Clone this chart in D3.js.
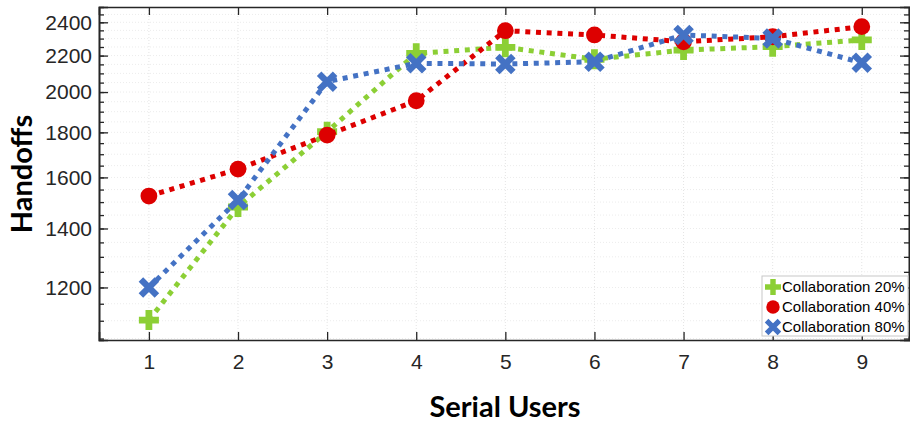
<!DOCTYPE html>
<html><head><meta charset="utf-8">
<script src="https://cdn.jsdelivr.net/npm/d3@7"></script>
<style>
body{margin:0;background:#fff;}
svg{display:block;}
</style></head>
<body>
<svg id="chart" width="910" height="425"></svg>
<script>
const users = [1,2,3,4,5,6,7,8,9];
const seriesNames = ["Collaboration 20%","Collaboration 40%","Collaboration 80%"];
const collab20 = [1102,1481,1803,2213,2248,2179,2232,2252,2292];
const collab40 = [1524,1635,1787,1955,2348,2322,2281,2311,2373];
const collab80 = [1200,1508,2055,2156,2152,2165,2322,2301,2159];
const yTickLabels = [1200,1400,1600,1800,2000,2200,2400];
const colors = ["#8ccf35","#dd0000","#4472c4"];
const markers = ["plus","circle","cross"];

(function(){
const svg = d3.select("#chart");
const L=99, R=909, T=7, B=340;
const x = d3.scaleLinear().domain([0.44,9.53]).range([L,R]);
const y = d3.scaleLog().domain([1046,2498]).range([B,T]);
const minor = d3.range(1050,2500,50);

// grid
const g = svg.append("g");
g.selectAll(".gx").data(users).enter().append("line")
  .attr("x1",d=>x(d)).attr("x2",d=>x(d)).attr("y1",T).attr("y2",B)
  .attr("stroke","#e4e4e4").attr("stroke-width",1).attr("stroke-dasharray","1,2");
g.selectAll(".gy").data(minor).enter().append("line")
  .attr("y1",d=>y(d)).attr("y2",d=>y(d)).attr("x1",L).attr("x2",R)
  .attr("stroke","#ececec").attr("stroke-width",1).attr("stroke-dasharray","1,2");

// axes
const axColor="#262626";
const axBottom = d3.axisBottom(x).tickValues(users).tickSize(-8).tickPadding(14).tickFormat(d3.format("d"));
const axTop = d3.axisTop(x).tickValues(users).tickSize(-8).tickFormat("");
const leftMinor = d3.axisLeft(y).tickValues(minor).tickSize(-5).tickFormat("");
const leftMajor = d3.axisLeft(y).tickValues(yTickLabels).tickSize(-9).tickPadding(7).tickFormat(d3.format("d"));
const rightMinor = d3.axisRight(y).tickValues(minor).tickSize(-5).tickFormat("");
const rightMajor = d3.axisRight(y).tickValues(yTickLabels).tickSize(-9).tickFormat("");

function styleAxis(sel){
  sel.selectAll("path").attr("stroke",axColor).attr("stroke-width",1.6);
  sel.selectAll("line").attr("stroke",axColor).attr("stroke-width",1.3);
  sel.selectAll("text").attr("fill","#262626").style("font-family","'Liberation Sans',Arial,sans-serif").style("font-size","21px");
}
styleAxis(svg.append("g").attr("transform",`translate(0,${B})`).call(axBottom));
styleAxis(svg.append("g").attr("transform",`translate(0,${T})`).call(axTop));
styleAxis(svg.append("g").attr("transform",`translate(${L},0)`).call(leftMinor));
styleAxis(svg.append("g").attr("transform",`translate(${L},0)`).call(leftMajor));
styleAxis(svg.append("g").attr("transform",`translate(${R},0)`).call(rightMinor));
styleAxis(svg.append("g").attr("transform",`translate(${R},0)`).call(rightMajor));

// titles
svg.append("text").attr("x",505).attr("y",417).attr("text-anchor","middle")
  .style("font-family","Lato,'Open Sans',sans-serif").style("font-weight","bold").style("font-size","29px")
  .attr("fill","#000").text("Serial Users");
svg.append("text").attr("transform","translate(32,174) rotate(-90)").attr("text-anchor","middle")
  .style("font-family","Lato,'Open Sans',sans-serif").style("font-weight","bold").style("font-size","29px")
  .attr("fill","#000").text("Handoffs");

// markers
function drawMarker(sel, type, color, s){
  if(type==="circle"){
    sel.append("circle").attr("r",s*0.42).attr("fill",color);
  } else if(type==="plus"){
    const a=s/2, w=s*0.17;
    sel.append("path").attr("fill",color)
      .attr("d",`M${-w},${-a}H${w}V${-w}H${a}V${w}H${w}V${a}H${-w}V${w}H${-a}V${-w}H${-w}Z`);
  } else {
    const a=s*0.4;
    sel.append("path").attr("stroke",color).attr("stroke-width",s*0.32).attr("fill","none")
      .attr("d",`M${-a},${-a}L${a},${a}M${-a},${a}L${a},${-a}`);
  }
}

const allSeries=[collab20,collab40,collab80];
const line = d3.line().x((d,i)=>x(users[i])).y(d=>y(d));
allSeries.forEach((vals,k)=>{
  const sg = svg.append("g");
  sg.append("path").datum(vals).attr("d",line).attr("fill","none")
    .attr("stroke",colors[k]).attr("stroke-width",5).attr("stroke-dasharray","5,5.7");
  vals.forEach((v,i)=>{
    const m = sg.append("g").attr("transform",`translate(${x(users[i])},${y(v)})`);
    drawMarker(m, markers[k], colors[k], 20);
  });
});

// legend
const lg = svg.append("g");
lg.append("rect").attr("x",762).attr("y",276).attr("width",146).attr("height",60)
  .attr("fill","#fff").attr("stroke","#c8c8c8").attr("stroke-width",1);
seriesNames.forEach((n,k)=>{
  const yy = 287 + k*20;
  const m = lg.append("g").attr("transform",`translate(773,${yy})`);
  drawMarker(m, markers[k], colors[k], 16);
  lg.append("text").attr("x",782).attr("y",yy+5).text(n)
    .style("font-family","'Liberation Sans',Arial,sans-serif").style("font-size","15px").attr("fill","#000");
});
})();
</script>
</body></html>
